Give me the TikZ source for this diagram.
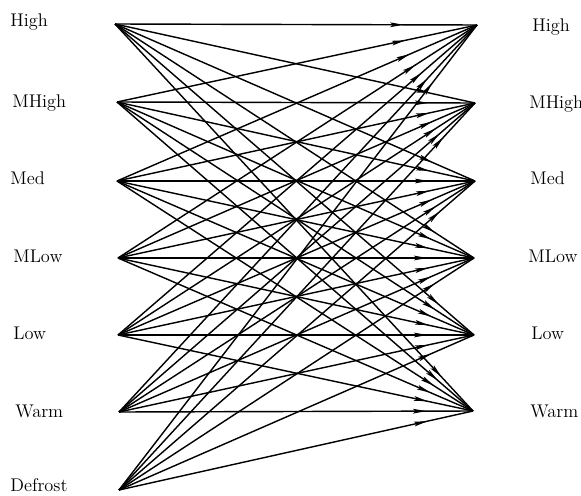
\documentclass[tikz,border=0pt]{standalone}
\usetikzlibrary{arrows.meta,decorations.markings}

\begin{document}
\begin{tikzpicture}[
      x=0.6pt,y=-0.6pt,
      font=\fontsize{11}{13}\selectfont,
      lbl/.style={anchor=west,inner sep=0pt},
      link/.style={line width=0.85pt,
        postaction={decorate},
        decoration={markings,mark=at position -#1 with {\arrow{Stealth[length=8pt,width=2.8pt,inset=1.5pt]}}}},
      link/.default=28pt
    ]
      \useasboundingbox (0,0) rectangle (581,496);

      % sources
      \coordinate (sHigh) at (115,24);
      \coordinate (sMHigh) at (117,102);
      \coordinate (sMed) at (117,181);
      \coordinate (sMLow) at (118,258);
      \coordinate (sLow) at (118,335);
      \coordinate (sWarm) at (119,412);
      \coordinate (sDefrost) at (119,490);

      % targets
      \coordinate (tHigh) at (477,25);
      \coordinate (tMHigh) at (475,103);
      \coordinate (tMed) at (475,181);
      \coordinate (tMLow) at (474,258);
      \coordinate (tLow) at (474,335);
      \coordinate (tWarm) at (473,411);

      \node[lbl] (lHigh) at (10,22) {High};
      \node[lbl] (lMHigh) at (12,103) {MHigh};
      \node[lbl] (lMed) at (10,178) {Med};
      \node[lbl] (lMLow) at (13,256) {MLow};
      \node[lbl] (lLow) at (13,333) {Low};
      \node[lbl] (lWarm) at (15,411) {Warm};
      \node[lbl] (lDefrost) at (10,485) {Defrost};

      \node[lbl] (rHigh) at (532,27) {High};
      \node[lbl] (rMHigh) at (529,104) {MHigh};
      \node[lbl] (rMed) at (530,178) {Med};
      \node[lbl] (rMLow) at (528,256) {MLow};
      \node[lbl] (rLow) at (531,333) {Low};
      \node[lbl] (rWarm) at (530,411) {Warm};

      % arrows into High sit further back
      \foreach \src in {High,MHigh,Med,MLow,Low,Warm,Defrost}{
        \draw[link=44pt] (s\src) -- (tHigh);
        \foreach \dst in {MHigh,Med,MLow,Low,Warm}
          \draw[link] (s\src) -- (t\dst);
      }
    \end{tikzpicture}
\end{document}
